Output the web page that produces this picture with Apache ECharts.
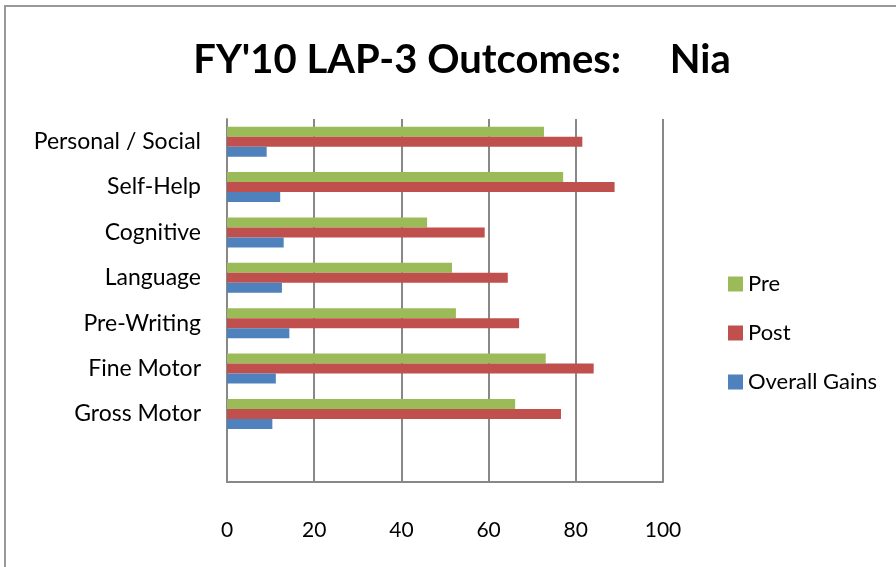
<!DOCTYPE html>
<html>
<head>
<meta charset="utf-8">
<script src="https://cdn.jsdelivr.net/npm/echarts@6/dist/echarts.min.js"></script>
<style>
  html, body { margin: 0; padding: 0; background: #fff; }
  #main { width: 896px; height: 567px; }
</style>
</head>
<body>
<div id="main"></div>
<script>
// categories top to bottom, last slot is empty in the original
var categories = ['Personal / Social', 'Self-Help', 'Cognitive', 'Language', 'Pre-Writing', 'Fine Motor', 'Gross Motor', ''];
var preData   = [72.7, 77.1, 45.9, 51.6, 52.5, 73.1, 66.1, null];
var postData  = [81.5, 88.9, 59.1, 64.4, 67.0, 84.1, 76.6, null];
var gainsData = [9.1, 12.2, 13.0, 12.6, 14.3, 11.2, 10.4, null];
var xTicks = [0, 20, 40, 60, 80, 100];

var myChart = echarts.init(document.getElementById('main'));
var font = 'Lato, "Open Sans", sans-serif';

var option = {
    backgroundColor: '#fff',
    animation: false,
    color: ['#9BBB59', '#C0504D', '#4F81BD'],
    title: {
        text: "FY'10 LAP-3 Outcomes:     Nia",
        left: 457,
        textAlign: 'center',
        top: 35,
        textStyle: {
            fontFamily: font,
            fontWeight: 'bold',
            fontSize: 40,
            color: '#000'
        }
    },
    graphic: [{
        // outer chart border
        type: 'rect',
        shape: { x: 5, y: 6, width: 900, height: 570 },
        style: { fill: 'none', stroke: '#999', lineWidth: 2 },
        silent: true
    }],
    legend: {
        orient: 'vertical',
        left: 723,
        top: 268,
        itemWidth: 15,
        itemHeight: 15,
        itemGap: 27,
        icon: 'rect',
        textStyle: { fontFamily: font, fontSize: 22, lineHeight: 22, color: '#000' },
        data: ['Pre', 'Post', 'Overall Gains']
    },
    grid: {
        left: 227,
        right: 233,
        top: 119,
        bottom: 85,
        containLabel: false
    },
    xAxis: {
        type: 'value',
        min: xTicks[0],
        max: xTicks[xTicks.length - 1],
        interval: 20,
        axisLine: { show: true, lineStyle: { color: '#888', width: 2 } },
        axisTick: { show: false },
        splitLine: { show: true, lineStyle: { color: '#888', width: 2 } },
        axisLabel: { margin: 38, fontFamily: font, fontSize: 21, color: '#000' }
    },
    yAxis: {
        type: 'category',
        inverse: true,
        data: categories,
        axisLine: { show: true, onZero: false, lineStyle: { color: '#888', width: 2 } },
        axisTick: { show: false },
        axisLabel: { margin: 26, fontFamily: font, fontSize: 23, color: '#000' }
    },
    series: [
        { name: 'Pre', type: 'bar', data: preData, barGap: '0%', barCategoryGap: '34%' },
        { name: 'Post', type: 'bar', data: postData, barGap: '0%', barCategoryGap: '34%' },
        { name: 'Overall Gains', type: 'bar', data: gainsData, barGap: '0%', barCategoryGap: '34%' }
    ]
};

myChart.setOption(option);
</script>
</body>
</html>
